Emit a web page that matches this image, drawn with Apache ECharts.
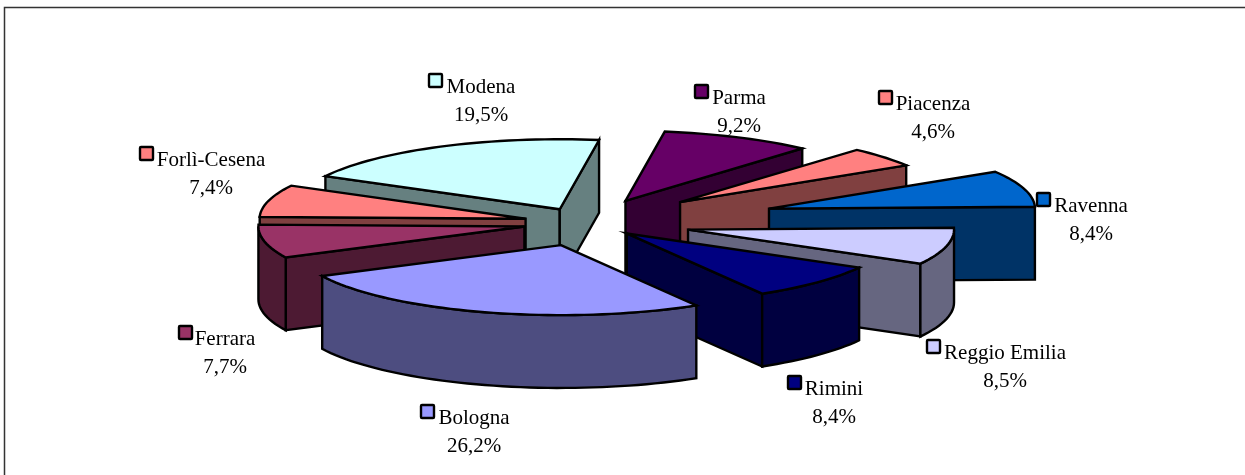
<!DOCTYPE html>
<html>
<head>
<meta charset="utf-8">
<style>html,body{margin:0;padding:0;background:#fff}#c{width:1245px;height:475px}</style>
<script src="https://cdn.jsdelivr.net/npm/echarts@6/dist/echarts.min.js"></script>
</head>
<body>
<div id="c"></div>
<script>
var categories = ['Bologna','Ferrara','Forlì-Cesena','Modena','Parma','Piacenza','Ravenna','Reggio Emilia','Rimini'];
var values = [26.2,7.7,7.4,19.5,9.2,4.6,8.4,8.5,8.4];
var valueLabels = ['26,2%','7,7%','7,4%','19,5%','9,2%','4,6%','8,4%','8,5%','8,4%'];
var explosions = [0.33,0.237,0.235,0.22,0.35,0.462,0.718,0.395,0.214];
var topColors = ['#9999FF','#993366','#FF8080','#CCFFFF','#660066','#FF8080','#0066CC','#CCCCFF','#000080'];
var sideColors = ['#4D4D80','#4D1A33','#804040','#668080','#330033','#804040','#003366','#666680','#000040'];
var drawOrder = [3,4,5,6,2,1,7,8,0];
var firstAngle = 149.4;
var depth = 1.04;
var keyPos = [[420,404],[178,325],[139,146],[428,73],[694,84],[878,90],[1036,192],[926,339],[787,375]];
var labelCenterX = [474,225,211,481,739,933,1091,1005,834];

var total = values.reduce(function(a,b){return a+b;},0);
var spans = [], acc = firstAngle;
values.forEach(function(v){
  var e = acc + v/total*360;
  var shift = acc >= 360 ? 360 : 0;
  spans.push([acc-shift,e-shift]);
  acc = e;
});
var rows = drawOrder.map(function(i){ return [spans[i][0],spans[i][1],explosions[i],i]; });
var rad = Math.PI/180;
var FONT = '21px "Liberation Serif"';

function renderItem(params, api){
  var a0 = api.value(0), a1 = api.value(1), ex = api.value(2), idx = api.value(3);
  var mid = (a0+a1)/2*rad;
  var ox = ex*Math.sin(mid), oy = ex*Math.cos(mid);
  function pt(r,a,drop){ return api.coord([ox+r*Math.sin(a*rad), oy+r*Math.cos(a*rad)-(drop?depth:0)]); }
  function arc(s,e,drop){ var out=[],n=Math.max(2,Math.ceil((e-s)/2)); for(var k=0;k<=n;k++) out.push(pt(1,s+(e-s)*k/n,drop)); return out; }
  var kids = [];
  function poly(points,fill){
    kids.push({type:'polygon',shape:{points:points},style:{fill:fill,stroke:'#000',lineWidth:2.4,lineJoin:'miter'}});
  }
  var side = sideColors[idx];
  if (Math.sin(a0*rad) < 0) poly([pt(0,a0,false),pt(1,a0,false),pt(1,a0,true),pt(0,a0,true)],side);
  if (Math.sin(a1*rad) > 0) poly([pt(0,a1,false),pt(1,a1,false),pt(1,a1,true),pt(0,a1,true)],side);
  var rs = Math.max(a0,90), re = Math.min(a1,270);
  if (re > rs) poly(arc(rs,re,false).concat(arc(rs,re,true).reverse()),side);
  poly([pt(0,a0,false)].concat(arc(a0,a1,false)),topColors[idx]);
  return {type:'group',children:kids};
}

function renderLabels(params, api){
  var idx = api.value(0), k = keyPos[idx], cx = labelCenterX[idx];
  return {type:'group',children:[
    {type:'rect',shape:{x:k[0]+1,y:k[1]+1,width:13,height:13,r:1},style:{fill:topColors[idx],stroke:'#000',lineWidth:2.4}},
    {type:'text',style:{x:cx,y:k[1]+14,text:categories[idx],font:FONT,fill:'#000',align:'center',verticalAlign:'middle'}},
    {type:'text',style:{x:cx,y:k[1]+42,text:valueLabels[idx],font:FONT,fill:'#000',align:'center',verticalAlign:'middle'}}
  ]};
}

var chart = echarts.init(document.getElementById('c'),null,{renderer:'canvas'});
chart.setOption({
  animation:false,
  backgroundColor:'#fff',
  grid:{left:320,top:153,width:532,height:140},
  xAxis:{type:'value',min:-1,max:1,show:false},
  yAxis:{type:'value',min:-1,max:1,show:false},
  graphic:[
    {type:'polyline',shape:{points:[[4.5,475],[4.5,7.5],[1245,7.5]]},style:{fill:null,stroke:'#333',lineWidth:1.5},silent:true}
  ],
  series:[
    {type:'custom',coordinateSystem:'cartesian2d',clip:false,silent:true,renderItem:renderItem,encode:{x:0,y:1},data:rows,z:2},
    {type:'custom',coordinateSystem:'none',silent:true,renderItem:renderLabels,data:categories.map(function(c,i){return [i];}),z:3}
  ]
});
</script>
</body>
</html>
